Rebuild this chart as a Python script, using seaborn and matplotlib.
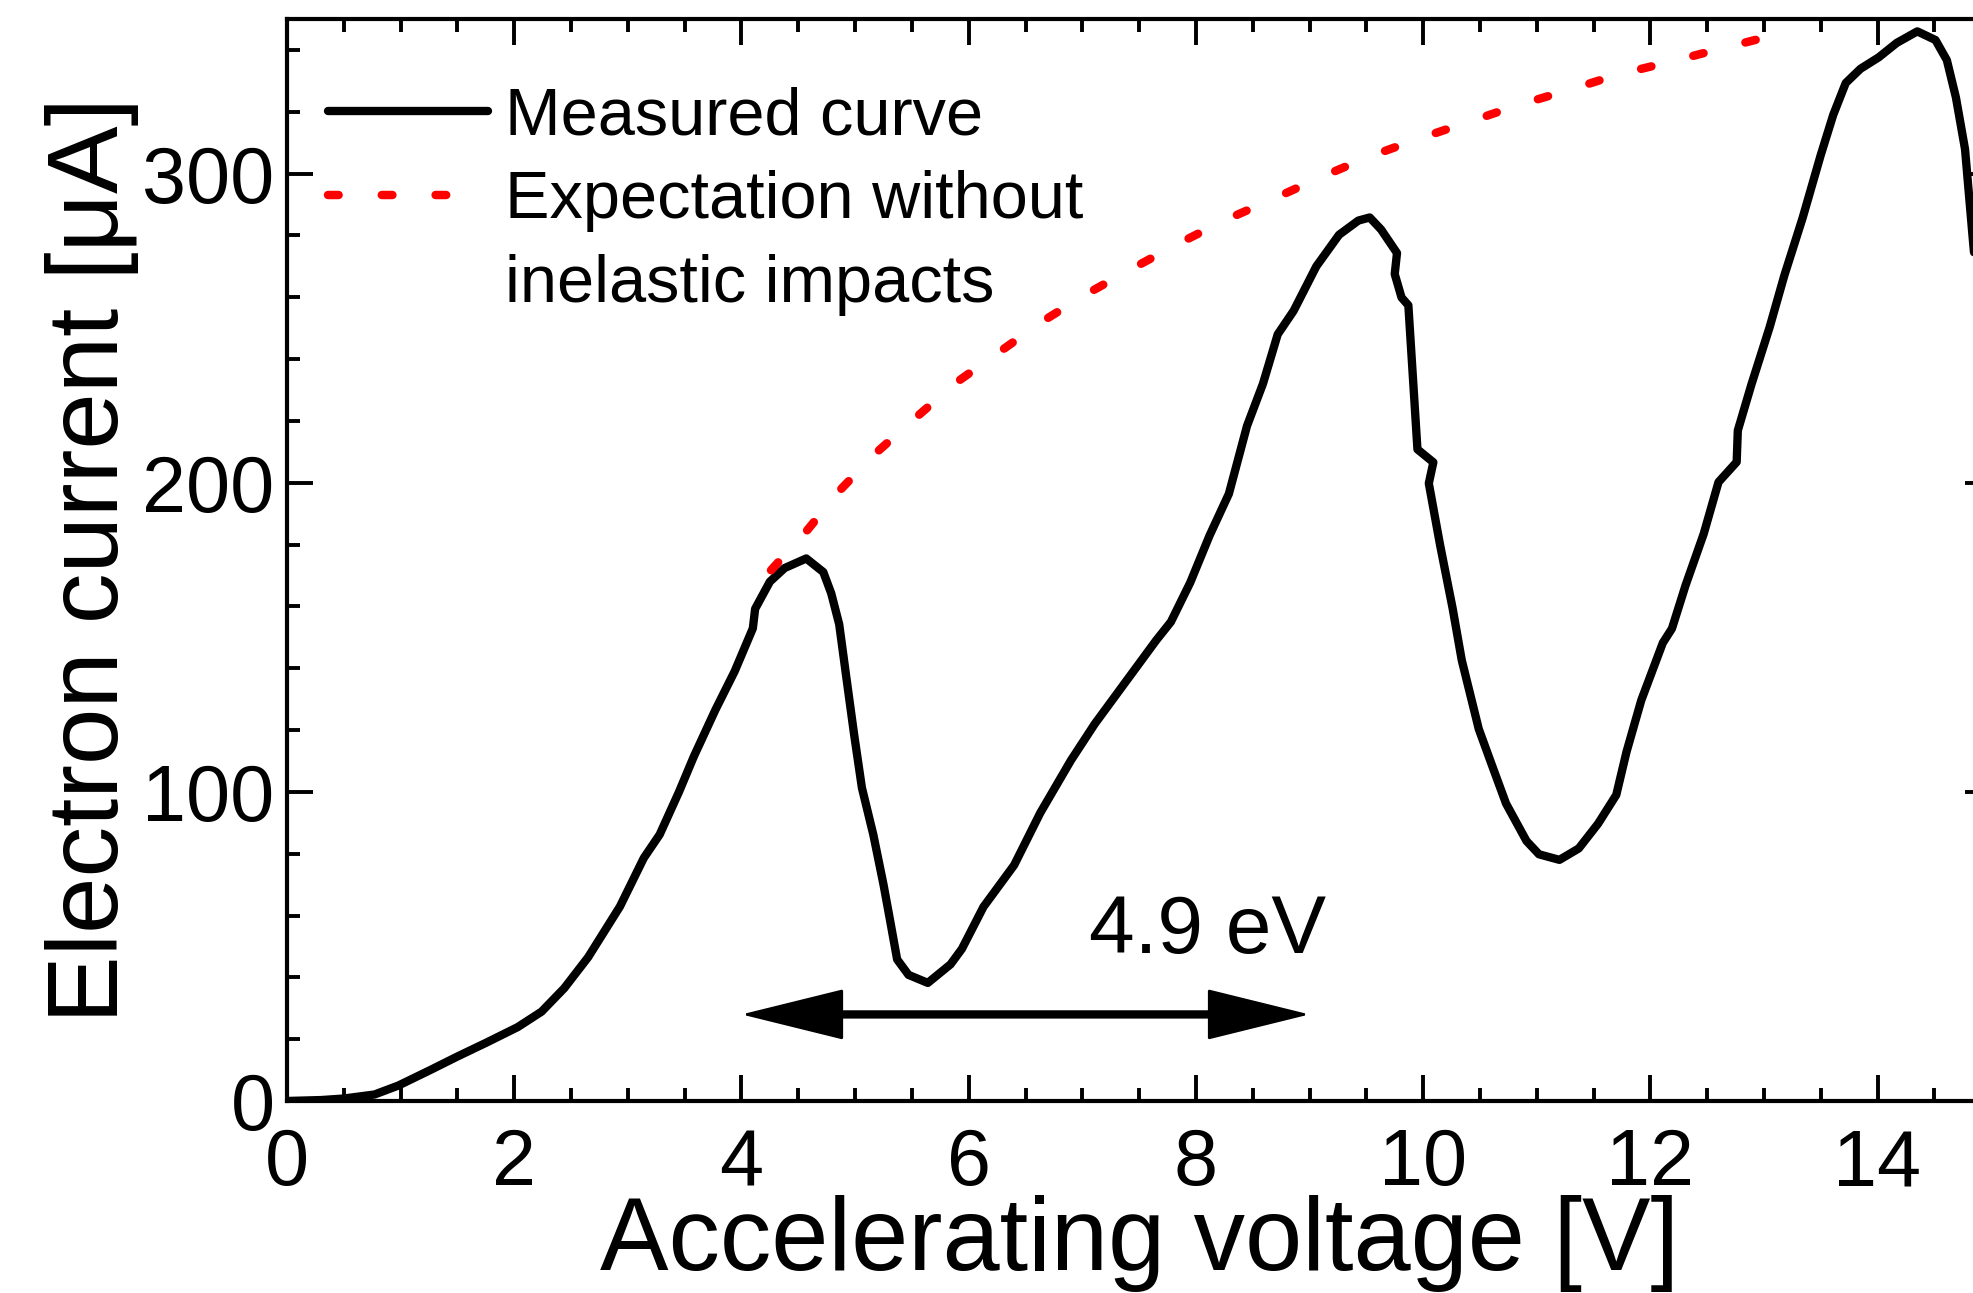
import matplotlib

matplotlib.use("Agg")
import matplotlib.pyplot as plt
import pandas as pd
import seaborn as sns
from matplotlib.lines import Line2D
from matplotlib.ticker import MultipleLocator

# measured Franck-Hertz curve
voltage = [
    0.00, 0.30, 0.50, 0.77, 0.98, 1.26, 1.50, 1.75, 2.03, 2.24, 2.44, 2.65, 2.93, 3.14,
    3.28, 3.45, 3.58, 3.77, 3.94, 4.10, 4.12, 4.25, 4.38, 4.57, 4.72, 4.79, 4.86, 4.92,
    4.99, 5.06, 5.16, 5.25, 5.30, 5.37, 5.47, 5.64, 5.84, 5.94, 6.13, 6.40, 6.63, 6.90,
    7.11, 7.38, 7.65, 7.78, 7.95, 8.12, 8.29, 8.45, 8.59, 8.72, 8.86, 9.06, 9.26, 9.43,
    9.53, 9.63, 9.77, 9.75, 9.81, 9.87, 9.95, 10.09, 10.05, 10.15, 10.26, 10.34, 10.49,
    10.60, 10.73, 10.91, 11.02, 11.20, 11.37, 11.54, 11.70, 11.79, 11.92, 12.11, 12.19,
    12.31, 12.47, 12.60, 12.76, 12.77, 12.89, 13.05, 13.18, 13.34, 13.50, 13.61, 13.72,
    13.85, 14.01, 14.17, 14.35, 14.51, 14.61, 14.69, 14.77, 14.84, 14.88,
]
current = [
    0.0, 0.3, 0.8, 2.1, 5.0, 10.0, 14.4, 18.8, 23.9, 28.9, 36.5, 46.5, 62.9, 78.6,
    86.2, 100.0, 111.4, 126.5, 139.0, 152.9, 159.2, 168.0, 172.4, 175.5, 171.1, 164.2, 154.2, 137.8,
    118.9, 101.3, 86.2, 70.0, 60.0, 45.8, 40.8, 38.2, 44.2, 49.2, 62.8, 76.3, 93.2, 110.2,
    122.0, 135.5, 149.0, 155.0, 167.7, 182.9, 196.4, 218.4, 232.0, 248.0, 255.6, 270.0, 280.2, 284.8,
    285.8, 281.9, 274.3, 267.5, 259.9, 257.4, 210.8, 206.6, 199.8, 179.7, 159.3, 142.6, 120.3,
    109.2, 96.2, 84.1, 79.8, 78.0, 81.7, 89.7, 99.0, 112.9, 129.6, 148.2, 152.8,
    166.8, 183.5, 200.2, 206.7, 216.9, 231.8, 250.3, 267.1, 285.6, 306.0, 319.0, 329.3,
    333.9, 337.6, 342.3, 346.0, 343.2, 336.7, 324.6, 307.9, 278.2, 262.0,
]

# expectation without inelastic impacts
expected_voltage = [
    4.26, 4.58, 4.87, 5.18, 5.52, 5.89, 6.27, 6.65, 7.03, 7.45, 7.86, 8.26,
    8.68, 9.11, 9.52, 9.97, 10.41, 10.84, 11.29, 11.72, 12.17, 12.61, 13.05, 13.20,
]
expected_current = [
    171.7, 184.7, 197.7, 209.5, 220.6, 232.4, 242.3, 252.2, 260.9, 269.5, 277.6, 285.0,
    291.8, 299.0, 305.4, 311.4, 316.8, 322.2, 327.1, 332.1, 336.1, 340.3, 344.4, 345.6,
]

x_ticks = [0, 2, 4, 6, 8, 10, 12, 14]
y_ticks = [0, 100, 200, 300]

# 4.9 eV spacing marker
arrow_start, arrow_end, arrow_y = 4.0, 9.0, 28
gap_label, gap_label_x, gap_label_y = "4.9 eV", 8.1, 48

sns.set_theme(style="ticks")
plt.rcParams["font.family"] = ["Liberation Sans", "DejaVu Sans"]
plt.rcParams["text.color"] = "black"
plt.rcParams["axes.labelcolor"] = "black"

fig = plt.figure(figsize=(19.73, 12.93), dpi=100)
ax = fig.add_axes([0.1455, 0.1485, 0.8637, 0.8368])

measured = pd.DataFrame({"voltage": voltage, "current": current})
expected = pd.DataFrame({"voltage": expected_voltage, "current": expected_current})

sns.lineplot(data=measured, x="voltage", y="current", sort=False, estimator=None,
             color="black", linewidth=6.0, ax=ax, label="Measured curve")
sns.lineplot(data=expected, x="voltage", y="current", sort=False, estimator=None,
             color="red", linewidth=6.1, ax=ax, label="Expectation without")
ax.lines[0].set_solid_capstyle("round")
ax.lines[1].set_linestyle((0, (1.25, 5.1)))
ax.lines[1].set_dash_capstyle("round")

handles = [ax.lines[0], ax.lines[1], Line2D([], [], color="none")]
labels = ["Measured curve", "Expectation without", "inelastic impacts"]
ax.legend(handles, labels, loc="upper left", bbox_to_anchor=(0.024, 0.938), frameon=False,
          fontsize=48, handlelength=2.4, handletextpad=0.25, labelspacing=0.33,
          borderpad=0, borderaxespad=0)

# heads (thin outline so the tips land on the end points) and a thick shaft
ax.annotate("", xy=(arrow_end, arrow_y), xytext=(arrow_start, arrow_y),
            arrowprops=dict(arrowstyle="<|-|>,head_length=1.7,head_width=0.42",
                            mutation_scale=40, color="black", lw=2,
                            shrinkA=0, shrinkB=0))
ax.annotate("", xy=(arrow_end, arrow_y), xytext=(arrow_start, arrow_y),
            arrowprops=dict(arrowstyle="-", color="black", lw=6,
                            shrinkA=45, shrinkB=45))
ax.text(gap_label_x, gap_label_y, gap_label, fontsize=59, ha="center", va="baseline",
        color="black")

ax.set_xlim(0, 15)
ax.set_ylim(0, 350)
ax.set_xticks(x_ticks)
ax.set_yticks(y_ticks)
ax.xaxis.set_minor_locator(MultipleLocator(0.5))
ax.yaxis.set_minor_locator(MultipleLocator(20))
ax.tick_params(which="both", direction="in", top=True, right=True, width=2.8,
               color="black", labelcolor="black")
ax.tick_params(which="major", length=19, labelsize=57)
ax.tick_params(which="minor", length=9.5)
ax.tick_params(axis="x", which="major", pad=19)
ax.tick_params(axis="y", which="major", pad=9)
for spine in ax.spines.values():
    spine.set_linewidth(3)
    spine.set_color("black")

ax.set_xlabel("Accelerating voltage [V]", fontsize=74)
ax.set_ylabel("Electron current [μA]", fontsize=73)
ax.xaxis.set_label_coords(0.5, -0.087)
ax.yaxis.set_label_coords(-0.087, 0.5)

fig.savefig("out.png", dpi=100)
